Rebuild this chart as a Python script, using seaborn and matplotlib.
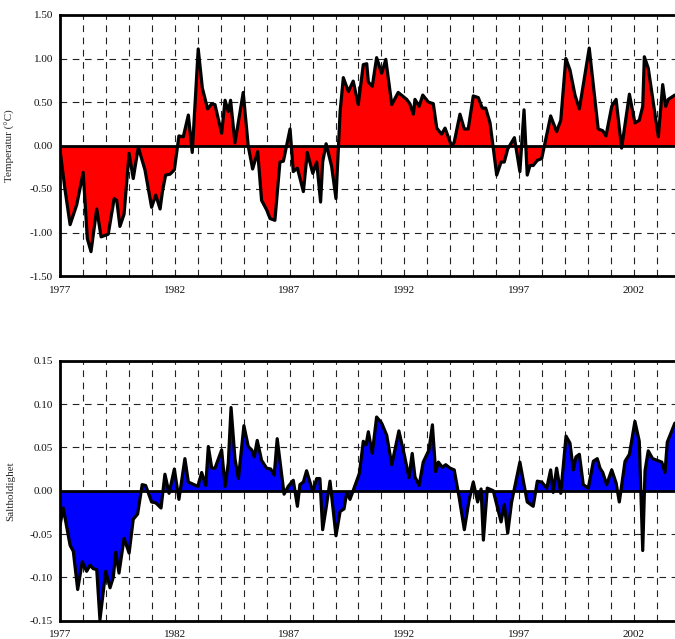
import numpy as np
import pandas as pd
import seaborn as sns
import matplotlib.pyplot as plt
from matplotlib.ticker import MultipleLocator, FormatStrFormatter

# temperaturavvik (år etter 1977, verdi)
temp_t = [0.00, 0.22, 0.44, 0.73, 1.01, 1.19, 1.35, 1.60, 1.79, 2.10, 2.36, 2.47, 2.61, 2.79,
          3.01, 3.19, 3.41, 3.70, 3.99, 4.17, 4.36, 4.46, 4.60, 4.79, 4.98, 5.18, 5.37, 5.59,
          5.76, 6.02, 6.20, 6.43, 6.61, 6.75, 7.04, 7.19, 7.33, 7.43, 7.62, 7.98, 8.20, 8.39,
          8.61, 8.78, 9.00, 9.15, 9.36, 9.58, 9.73, 10.02, 10.16, 10.34, 10.60, 10.77, 11.01,
          11.18, 11.35, 11.44, 11.59, 11.83, 12.02, 12.20, 12.34, 12.56, 12.77, 12.99, 13.21,
          13.36, 13.43, 13.60, 13.79, 14.01, 14.19, 14.45, 14.73, 15.10, 15.24, 15.39, 15.46,
          15.64, 15.80, 16.04, 16.26, 16.41, 16.62, 16.77, 17.06, 17.17, 17.42, 17.61, 17.78,
          18.00, 18.22, 18.39, 18.54, 18.73, 19.02, 19.21, 19.35, 19.50, 19.79, 20.03, 20.21,
          20.35, 20.47, 20.61, 20.79, 20.98, 21.37, 21.63, 21.81, 22.03, 22.21, 22.43, 22.62,
          23.05, 23.44, 23.64, 23.78, 24.03, 24.22, 24.46, 24.80, 25.04, 25.23, 25.38, 25.45,
          25.62, 26.06, 26.25, 26.38, 26.49, 26.78]
temp_v = [-0.05, -0.51, -0.91, -0.68, -0.31, -1.07, -1.22, -0.73, -1.05, -1.02, -0.61, -0.63,
          -0.93, -0.79, -0.09, -0.38, -0.02, -0.28, -0.71, -0.57, -0.73, -0.53, -0.34, -0.33,
          -0.28, 0.11, 0.10, 0.35, -0.08, 1.11, 0.66, 0.42, 0.48, 0.47, 0.14, 0.52, 0.39, 0.52,
          0.03, 0.61, -0.01, -0.27, -0.07, -0.63, -0.74, -0.84, -0.86, -0.19, -0.18, 0.19,
          -0.30, -0.26, -0.53, -0.08, -0.32, -0.19, -0.65, -0.19, 0.02, -0.24, -0.61, 0.39,
          0.78, 0.62, 0.74, 0.47, 0.93, 0.94, 0.73, 0.68, 1.01, 0.83, 0.99, 0.47, 0.61, 0.53,
          0.48, 0.36, 0.53, 0.45, 0.58, 0.50, 0.48, 0.20, 0.13, 0.20, -0.01, 0.04, 0.36, 0.19,
          0.19, 0.57, 0.55, 0.43, 0.43, 0.26, -0.34, -0.19, -0.19, -0.04, 0.09, -0.30, 0.41,
          -0.34, -0.23, -0.23, -0.17, -0.15, 0.34, 0.16, 0.29, 1.00, 0.87, 0.58, 0.42, 1.12,
          0.19, 0.17, 0.11, 0.45, 0.53, -0.03, 0.59, 0.26, 0.29, 0.45, 1.02, 0.89, 0.10, 0.70,
          0.45, 0.53, 0.58]

# saltholdighetsavvik
salt_t = [0.00, 0.14, 0.44, 0.58, 0.77, 0.97, 1.16, 1.31, 1.45, 1.60, 1.74, 1.99, 2.18, 2.32,
          2.43, 2.57, 2.79, 3.01, 3.19, 3.38, 3.58, 3.73, 3.99, 4.17, 4.40, 4.57, 4.75, 4.98,
          5.18, 5.44, 5.59, 6.00, 6.17, 6.35, 6.46, 6.61, 6.75, 7.04, 7.19, 7.33, 7.45, 7.62,
          7.77, 8.01, 8.20, 8.35, 8.46, 8.59, 8.78, 9.00, 9.18, 9.33, 9.46, 9.76, 9.94, 10.16,
          10.34, 10.45, 10.60, 10.74, 11.01, 11.18, 11.32, 11.44, 11.59, 11.76, 12.02, 12.20,
          12.37, 12.49, 12.63, 13.04, 13.21, 13.33, 13.43, 13.60, 13.79, 14.01, 14.23, 14.45,
          14.76, 15.00, 15.20, 15.34, 15.46, 15.64, 15.82, 16.07, 16.22, 16.36, 16.48, 16.65,
          16.80, 16.99, 17.17, 17.38, 17.61, 17.81, 18.00, 18.19, 18.34, 18.44, 18.61, 18.87,
          19.21, 19.35, 19.50, 19.67, 20.03, 20.35, 20.61, 20.79, 20.98, 21.20, 21.37, 21.48,
          21.63, 21.81, 22.04, 22.21, 22.36, 22.47, 22.62, 22.79, 23.01, 23.23, 23.40, 23.52,
          23.64, 23.81, 24.03, 24.22, 24.36, 24.61, 24.80, 25.04, 25.23, 25.38, 25.48, 25.62,
          25.81, 26.01, 26.21, 26.35, 26.45, 26.78]
salt_v = [-0.040, -0.020, -0.063, -0.070, -0.114, -0.082, -0.093, -0.086, -0.090, -0.091,
          -0.149, -0.093, -0.112, -0.100, -0.071, -0.095, -0.055, -0.072, -0.033, -0.027,
          0.007, 0.006, -0.013, -0.014, -0.020, 0.019, -0.003, 0.025, -0.010, 0.037, 0.010,
          0.005, 0.021, 0.006, 0.051, 0.026, 0.026, 0.047, 0.005, 0.032, 0.096, 0.037, 0.014,
          0.075, 0.051, 0.047, 0.039, 0.058, 0.035, 0.026, 0.025, 0.018, 0.060, -0.004, 0.005,
          0.012, -0.018, 0.007, 0.010, 0.023, -0.001, 0.014, 0.014, -0.045, -0.020, 0.011,
          -0.052, -0.024, -0.021, -0.002, -0.010, 0.020, 0.057, 0.053, 0.068, 0.043, 0.085,
          0.078, 0.064, 0.030, 0.069, 0.041, 0.015, 0.043, 0.016, 0.006, 0.033, 0.047, 0.076,
          0.022, 0.033, 0.027, 0.030, 0.026, 0.024, -0.007, -0.045, -0.012, 0.010, -0.013,
          0.002, -0.057, 0.003, 0.000, -0.036, -0.016, -0.049, -0.013, 0.033, -0.013, -0.018,
          0.011, 0.010, 0.003, 0.024, -0.002, 0.026, -0.003, 0.063, 0.055, 0.024, 0.039, 0.042,
          0.007, 0.003, 0.034, 0.037, 0.026, 0.021, 0.007, 0.024, 0.009, -0.013, 0.034, 0.042,
          0.080, 0.057, -0.069, 0.023, 0.046, 0.037, 0.035, 0.033, 0.021, 0.056, 0.078]

start_year = 1977
year_labels = [1977, 1982, 1987, 1992, 1997, 2002]

df_temp = pd.DataFrame({'year': start_year + np.array(temp_t), 'value': temp_v})
df_salt = pd.DataFrame({'year': start_year + np.array(salt_t), 'value': salt_v})

sns.set_style('white')
plt.rcParams['font.family'] = ['Liberation Serif', 'DejaVu Serif']

fig = plt.figure(figsize=(6.75, 6.39), dpi=100)
left = 60 / 675
width = (27 * 22.96) / 675
ax1 = fig.add_axes([left, 1 - 276 / 639, width, 261 / 639])
ax2 = fig.add_axes([left, 1 - 620.7 / 639, width, 260 / 639])


def draw(ax, df, color, lim, major, ylabel, fmt):
    ax.fill_between(df['year'], df['value'], 0, color=color, linewidth=0, zorder=2)
    sns.lineplot(data=df, x='year', y='value', ax=ax, color='black', linewidth=2.3,
                 estimator=None, sort=False, zorder=4)
    ax.axhline(0, color='black', linewidth=2.0, zorder=3)
    ax.set_xlim(1977, 2004)
    ax.set_ylim(-lim, lim)
    ax.set_xticks(year_labels)
    ax.set_xticklabels([str(y) for y in year_labels])
    ax.xaxis.set_minor_locator(MultipleLocator(1))
    ax.yaxis.set_major_locator(MultipleLocator(major))
    ax.yaxis.set_major_formatter(FormatStrFormatter(fmt))
    ax.grid(True, which='both', axis='x', color='#222222', linestyle=(0, (6, 5)), linewidth=0.8)
    ax.grid(True, which='major', axis='y', color='#222222', linestyle=(0, (6, 5)), linewidth=0.8)
    ax.set_axisbelow(True)
    ax.tick_params(which='both', length=0, labelsize=8, colors='#111111')
    ax.tick_params(axis='x', pad=7)
    ax.tick_params(axis='y', pad=5)
    for s in ax.spines.values():
        s.set_linewidth(2.0)
        s.set_color('black')
    ax.spines['right'].set_visible(False)
    ax.set_xlabel('')
    ax.set_ylabel(ylabel, fontsize=8)
    ax.yaxis.set_label_coords(-0.072, 0.5)


draw(ax1, df_temp, '#ff0000', 1.5, 0.5, 'Temperatur (°C)', '%.2f')
draw(ax2, df_salt, '#0000ff', 0.15, 0.05, 'Saltholdighet', '%.2f')

fig.savefig('out.png', dpi=100)
